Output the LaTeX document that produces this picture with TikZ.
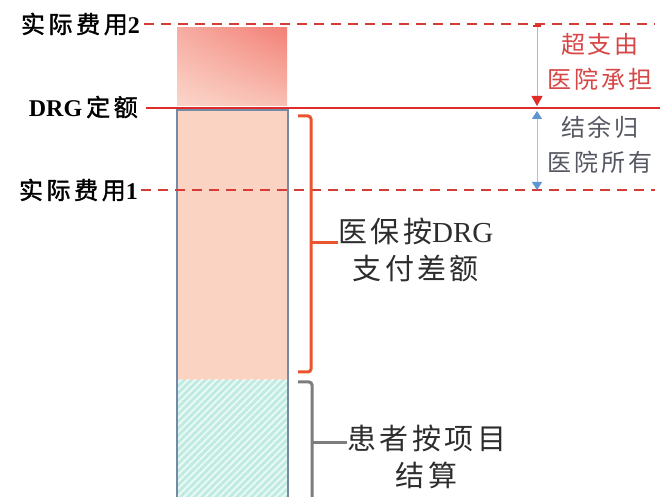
\documentclass[tikz,border=0pt]{standalone}
\usepackage{fontspec}
\setmainfont{Liberation Serif}
\newfontfamily\cjk{Noto Sans CJK SC}[LetterSpace=12]
\newfontfamily\cjkb{Noto Sans CJK SC}[FakeBold=1.5,LetterSpace=15]
\usetikzlibrary{arrows.meta,patterns.meta,shadings}
\definecolor{lred}{RGB}{222,45,40}
\definecolor{dred}{RGB}{214,60,55}
\definecolor{txtred}{RGB}{215,70,70}
\definecolor{txtgray}{RGB}{85,88,98}
\definecolor{txtdark}{RGB}{45,45,45}
\definecolor{barpink}{RGB}{251,211,195}
\definecolor{barborder}{RGB}{118,138,168}
\definecolor{tealbg}{RGB}{192,235,226}
\definecolor{tealline}{RGB}{236,250,247}
\definecolor{brorange}{RGB}{235,85,45}
\definecolor{brgray}{RGB}{125,125,125}
\definecolor{arrblue}{RGB}{95,150,210}
\definecolor{redline}{RGB}{205,175,175}
\definecolor{blueline}{RGB}{170,195,220}
\definecolor{gUR}{RGB}{243,128,118}
\definecolor{gUL}{RGB}{247,172,162}
\definecolor{gLR}{RGB}{249,192,180}
\definecolor{gLL}{RGB}{251,214,202}
\tikzset{
  lvlabel/.style={anchor=east,font=\cjkb\fontsize{24}{24}\selectfont,text=black,inner sep=1pt},
  dashline/.style={draw=dred,line width=2.4pt,dash pattern=on 10pt off 7pt},
  solidline/.style={draw=lred,line width=2.6pt},
  bracket/.style={line width=3pt,rounded corners=3pt},
  sidetext/.style={align=center,font=\cjk\fontsize{24}{35}\selectfont,inner sep=0pt},
  bigtext/.style={align=center,font=\cjk\fontsize{29}{37}\selectfont,text=txtdark,inner sep=0pt}
}
\begin{document}
\begin{tikzpicture}[x=1pt,y=-1pt]
\useasboundingbox[fill=white] (0,0) rectangle (665,497);
% bars
\shade[upper right=gUR,upper left=gUL,lower right=gLR,lower left=gLL]
  (177,28) rectangle (287,106);
\fill[barpink] (177,110) rectangle (288,380);
\fill[tealbg] (177,380) rectangle (288,497);
\fill[pattern={Lines[angle=45,distance=5pt,line width=1.8pt]},pattern color=tealline] (177,380) rectangle (288,497);
\draw[barborder,line width=1.3pt] (177,497) -- (177,110) -- (288,110) -- (288,497);
% labels and level lines
\node[lvlabel] (l2) at (141,24) {实际费用{\rmfamily\bfseries 2}};
\node[lvlabel] (drg) at (139,107) {{\rmfamily\bfseries DRG\,}定额};
\node[lvlabel] (l1) at (139,190) {实际费用{\rmfamily\bfseries 1}};
\coordinate (l2e) at (655,24);
\coordinate (drge) at (660,108);
\coordinate (l1e) at (655,190);
\draw[dashline] (l2.east) ++(3,0) -- (l2e);
\draw[solidline] (drg.east) ++(7,1) -- (drge);
\draw[dashline] (l1.east) ++(2,0) -- (l1e);
% arrows
\coordinate (a1) at (537,25);
\coordinate (a2) at (537,106);
\coordinate (b1) at (537,111);
\coordinate (b2) at (537,190);
\draw[draw=redline,line width=1pt,
  {Bar[color=lred,width=8pt,line width=2pt]}-{Triangle[color=lred,width=11pt,length=10pt]}] (a1) -- (a2);
\draw[draw=blueline,line width=1pt,
  {Triangle[color=arrblue,width=10pt,length=8pt]}-{Triangle[color=arrblue,width=10pt,length=8pt]}] (b1) -- (b2);
\node[sidetext,text=txtred] (over) at (600,62) {超支由\\医院承担};
\node[sidetext,text=txtgray] (save) at (600,145) {结余归\\医院所有};
% brackets
\coordinate (o1) at (298,116);
\coordinate (o2) at (298,372);
\coordinate (om) at (311,243);
\draw[bracket,brorange] (o1) -| (om) |- (o2);
\node[bigtext,anchor=west] (ins) at (338,250) {医保按{\rmfamily DRG}\\支付差额};
\draw[bracket,brorange,rounded corners=0pt] (om) -- (ins.west |- om);
\coordinate (g1) at (298,382);
\coordinate (gm) at (312,443);
\coordinate (g2) at (312,500);
\draw[bracket,brgray] (g1) -| (gm) -- (g2);
\node[bigtext,anchor=west] (pat) at (347,457) {患者按项目\\结算};
\draw[bracket,brgray,rounded corners=0pt] (gm) -- (pat.west |- gm);
\end{tikzpicture}
\end{document}
